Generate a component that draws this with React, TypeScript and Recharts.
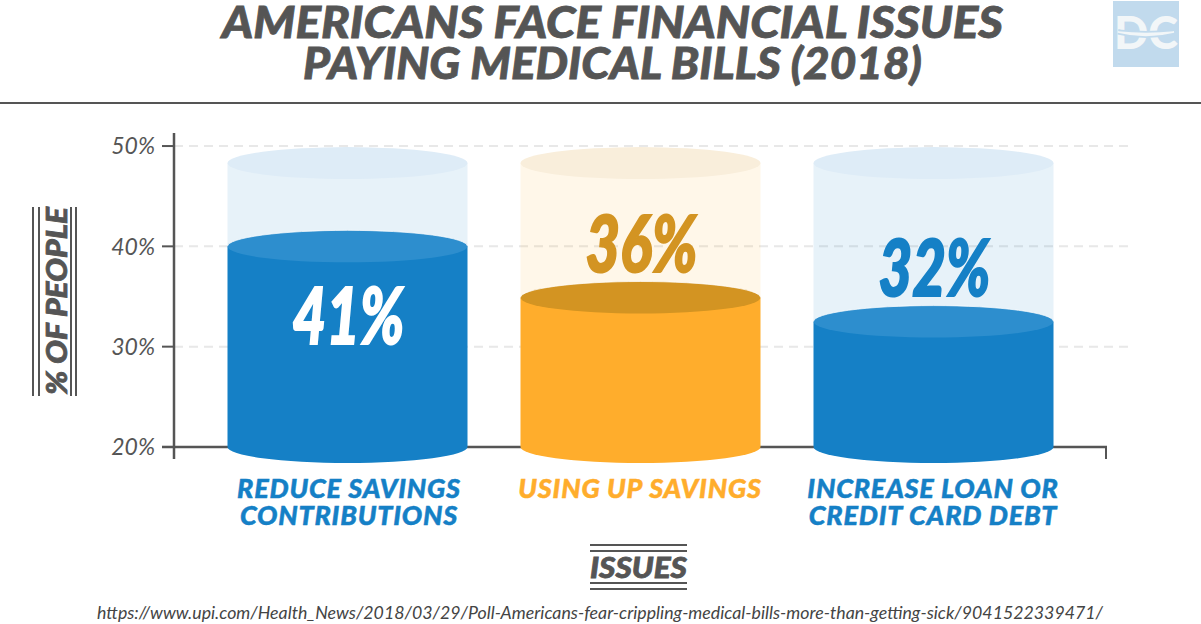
import React from "react";
import { BarChart, Bar, XAxis, YAxis, CartesianGrid, LabelList } from "recharts";

const issues = ["REDUCE SAVINGS|CONTRIBUTIONS", "USING UP SAVINGS", "INCREASE LOAN OR|CREDIT CARD DEBT"];
const labels = ["41%", "36%", "32%"];
const levels = [40, 34.9, 32.5];
const capacity = [48.3, 48.3, 48.3];
const yTicks = [20, 30, 40, 50];
const colors = ["#1580C6", "#FFAD2C", "#1580C6"];
const capColors = ["#DEECF7", "#F9EEDB", "#DEECF7"];
const rimColors = ["#2D8ECE", "#D39422", "#2D8ECE"];
const labelColors = ["#FFFFFF", "#D39422", "#1580C6"];

const data = issues.map((issue, i) => ({
  issue,
  label: labels[i],
  level: levels[i],
  capacity: capacity[i],
  color: colors[i],
  capColor: capColors[i],
  rimColor: rimColors[i],
  labelColor: labelColors[i],
}));

const RY = 16;
const FONT = "Lato, sans-serif";
const GREY = "#555555";

const Cylinder = (props: any) => {
  const { x, y, width, height, payload } = props;
  const rx = width / 2;
  const cx = x + rx;
  const bottom = y + height;
  return (
    <g>
      <path
        d={`M${x} ${y}L${x} ${bottom}A${rx} ${RY} 0 0 0 ${x + width} ${bottom}L${x + width} ${y}Z`}
        fill={payload.color}
      />
      <ellipse cx={cx} cy={y} rx={rx} ry={RY} fill={payload.rimColor} />
      <path
        d={`M${x} ${y}A${rx} ${RY} 0 0 1 ${x + width} ${y}`}
        fill="none"
        stroke="#FFFFFF"
        strokeOpacity={0.7}
        strokeWidth={1}
      />
    </g>
  );
};

const Tank = (props: any) => {
  const { x, y, width, height, payload } = props;
  const rx = width / 2;
  const cx = x + rx;
  const bottom = y + height;
  return (
    <g>
      <path
        d={`M${x} ${y}L${x} ${bottom}L${x + width} ${bottom}L${x + width} ${y}Z`}
        fill={payload.color}
        fillOpacity={0.1}
      />
      <ellipse cx={cx} cy={y} rx={rx} ry={RY} fill={payload.capColor} />
    </g>
  );
};

const ValueLabel = (props: any) => {
  const { x, y, width, index } = props;
  const d = data[index];
  const inside = d.level >= 40;
  return (
    <text
      x={x + width / 2 + 1}
      y={inside ? y + 98 : y - 26}
      textAnchor="middle"
      fontFamily={FONT}
      fontStyle="italic"
      fontWeight={900}
      fontSize={78}
      textLength={112}
      lengthAdjust="spacingAndGlyphs"
      stroke={d.labelColor}
      strokeWidth={2}
      fill={d.labelColor}
    >
      {d.label}
    </text>
  );
};

const CategoryTick = (props: any) => {
  const { x, payload, index } = props;
  const lines = String(payload.value).split("|");
  return (
    <text
      textAnchor="middle"
      fontFamily={FONT}
      fontStyle="italic"
      fontWeight={900}
      fontSize={27}
      letterSpacing={0.8}
      stroke={colors[index]}
      strokeWidth={0.5}
      fill={colors[index]}
    >
      {lines.map((l, i) => (
        <tspan key={i} x={x + (index === 0 ? 2 : 0)} y={498 + i * 26.5}>
          {l}
        </tspan>
      ))}
    </text>
  );
};

export default function App() {
  return (
    <div style={{ position: "absolute", left: 0, top: 0, width: 1201, height: 624, background: "#fff", overflow: "hidden" }}>
      <svg width={1201} height={624} style={{ position: "absolute", left: 0, top: 0 }}>
        <line x1={162} x2={1107} y1={447} y2={447} stroke={GREY} strokeWidth={2.5} />
        <line x1={1106} x2={1106} y1={447} y2={459} stroke={GREY} strokeWidth={2} />
      </svg>
      <div style={{ position: "absolute", left: 0, top: 0 }}>
        <BarChart
          width={1201}
          height={624}
          data={data}
          margin={{ top: 133, right: 68, bottom: 0, left: 0 }}
          barSize={240}
          barGap={-240}
        >
          <CartesianGrid
            vertical={false}
            horizontalValues={[30, 40, 50]}
            stroke="#E8E8E8"
            strokeWidth={2}
            strokeDasharray="9 6"
          />
          <XAxis
            dataKey="issue"
            height={165}
            axisLine={false}
            tickLine={false}
            interval={0}
            padding={{ left: 26.5, right: 53.5 }}
            tick={<CategoryTick />}
          />
          <YAxis
            width={174}
            type="number"
            domain={[18.8, 51.3]}
            ticks={yTicks}
            tickFormatter={(v: number) => `${v}%`}
            tick={{ fontFamily: FONT, fontStyle: "italic", fontSize: 23, fill: GREY }}
            tickSize={12}
            tickMargin={7}
            tickLine={{ stroke: GREY, strokeWidth: 2 }}
            axisLine={{ stroke: GREY, strokeWidth: 2.5 }}
          />
          <Bar dataKey={(d: any) => [d.level, d.capacity]} shape={<Tank />} isAnimationActive={false} />
          <Bar dataKey={(d: any) => [20, d.level]} shape={<Cylinder />} isAnimationActive={false}>
            <LabelList content={<ValueLabel />} />
          </Bar>
        </BarChart>
      </div>

      <svg width={1201} height={624} style={{ position: "absolute", left: 0, top: 0, pointerEvents: "none" }}>
        <g fontFamily={FONT} fontStyle="italic" fontWeight={900} fill={GREY} stroke={GREY} strokeWidth={0.8} textAnchor="middle">
          <text x={612.5} y={38} fontSize={44} textLength={781} lengthAdjust="spacingAndGlyphs">AMERICANS FACE FINANCIAL ISSUES</text>
          <text x={612.5} y={79} fontSize={44} textLength={619} lengthAdjust="spacingAndGlyphs">PAYING MEDICAL BILLS (2018)</text>
          <text x={638.5} y={578} fontSize={29} textLength={97} lengthAdjust="spacingAndGlyphs">ISSUES</text>
          <text transform="translate(67 301) rotate(-90)" fontSize={29} textLength={188} lengthAdjust="spacingAndGlyphs">% OF PEOPLE</text>
        </g>
        <line x1={0} x2={1201} y1={103} y2={103} stroke={GREY} strokeWidth={2} />
        {[545, 551, 583, 589].map((y) => (
          <line key={y} x1={590} x2={687} y1={y} y2={y} stroke={GREY} strokeWidth={2} />
        ))}
        {[33, 39, 71, 76].map((x) => (
          <line key={x} x1={x} x2={x} y1={207} y2={396} stroke={GREY} strokeWidth={2} />
        ))}
        <text x={600} y={619} textAnchor="middle" fontFamily={FONT} fontStyle="italic" fontSize={17.5} textLength={1006} lengthAdjust="spacingAndGlyphs" fill="#444">
          https://www.upi.com/Health_News/2018/03/29/Poll-Americans-fear-crippling-medical-bills-more-than-getting-sick/9041522339471/
        </text>
        <rect x={1113} y={1} width={66} height={66} fill="#C1DAED" />
        <text x={1146} y={49} textAnchor="middle" fontFamily={FONT} fontWeight={900} fontSize={45} fill="#F2F6F8">DC</text>
        <path d="M1118 32Q1146 39 1174 32Q1146 35 1118 32" stroke="#C1DAED" strokeWidth={5} fill="none" />
        <path d="M1118 32Q1146 39 1174 32Q1146 35 1118 32" stroke="#F2F6F8" strokeWidth={1.5} fill="#F2F6F8" />
      </svg>
    </div>
  );
}
